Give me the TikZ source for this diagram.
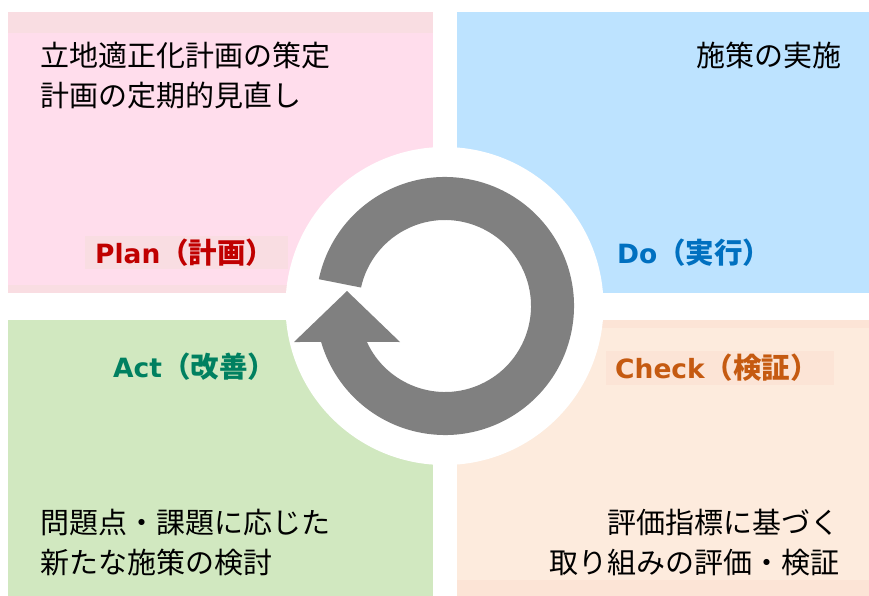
\documentclass[tikz,border=0pt]{standalone}
\usepackage{fontspec}
\newfontfamily\jp{Noto Sans CJK JP}
\newfontfamily\dvb{DejaVu Sans}
\definecolor{planfill}{RGB}{255,221,236}
\definecolor{planband}{RGB}{249,221,226}
\definecolor{dofill}{RGB}{189,227,255}
\definecolor{actfill}{RGB}{209,232,192}
\definecolor{checkfill}{RGB}{253,235,221}
\definecolor{checkband}{RGB}{252,228,214}
\definecolor{ringgray}{RGB}{128,128,128}
\definecolor{planred}{RGB}{192,0,0}
\definecolor{doblue}{RGB}{0,112,192}
\definecolor{actgreen}{RGB}{0,128,96}
\definecolor{checkorange}{RGB}{197,90,17}
\newcommand{\labjp}[1]{{\jp\bfseries\fontsize{28.5}{28.5}\selectfont #1}}
\tikzset{
  bodytext/.style={inner sep=0pt, font=\jp\fontsize{29}{29}\selectfont, text=black},
  labeltext/.style={inner sep=0pt, font=\fontsize{26.5}{26.5}\selectfont, anchor=base west}
}
\begin{document}
\begin{tikzpicture}[x=1pt,y=-1pt]
\useasboundingbox (0,0) rectangle (869,596);
% quadrants
\fill[planfill] (8,12) rectangle (433,293);
\fill[planband] (8,12) rectangle (433,33);
\fill[planband] (8,285) rectangle (433,293);
\fill[dofill] (457,12) rectangle (869,293);
\fill[actfill] (8,320) rectangle (433,596);
\fill[checkfill] (457,320) rectangle (869,596);
\fill[checkband] (457,320) rectangle (869,328);
\fill[checkband] (457,580) rectangle (869,596);
% central white disc
\fill[white] (444.5,306) circle[radius=159pt];
% cycle arrow
\begin{scope}[shift={(445,306)}, y=1pt]
\fill[ringgray] (168:129) arc[start angle=168, end angle=-163.8, radius=129pt]
  -- (-151,-36) -- (-98,15) -- (-45,-36) -- (-155.3:86)
  arc[start angle=-155.3, end angle=167.6, radius=86pt] -- cycle;
\end{scope}
% label backgrounds
\fill[planband] (85,236) rectangle (288,269);
\fill[checkband] (606,351) rectangle (834,385);
% labels
\node[labeltext, text=planred] (plan) at (95,263) {{\dvb\bfseries Plan}\labjp{（計画）}};
\node[labeltext, text=doblue] (do) at (617,263) {{\dvb\bfseries Do}\labjp{（実行）}};
\node[labeltext, text=actgreen] (act) at (113,377) {{\dvb\bfseries Act}\labjp{（改善）}};
\node[labeltext, text=checkorange] (check) at (615,378) {{\dvb\bfseries Check}\labjp{（検証）}};
% body texts
\node[bodytext, anchor=base west] (p1) at (40,67) {立地適正化計画の策定};
\node[bodytext, anchor=base west] (p2) at (40,107) {計画の定期的見直し};
\node[bodytext, anchor=base east] (d1) at (842,67) {施策の実施};
\node[bodytext, anchor=base west] (a1) at (40,533) {問題点・課題に応じた};
\node[bodytext, anchor=base west] (a2) at (40,573) {新たな施策の検討};
\node[bodytext, anchor=base east] (c1) at (840,533) {評価指標に基づく};
\node[bodytext, anchor=base east] (c2) at (840,573) {取り組みの評価・検証};
\end{tikzpicture}
\end{document}
